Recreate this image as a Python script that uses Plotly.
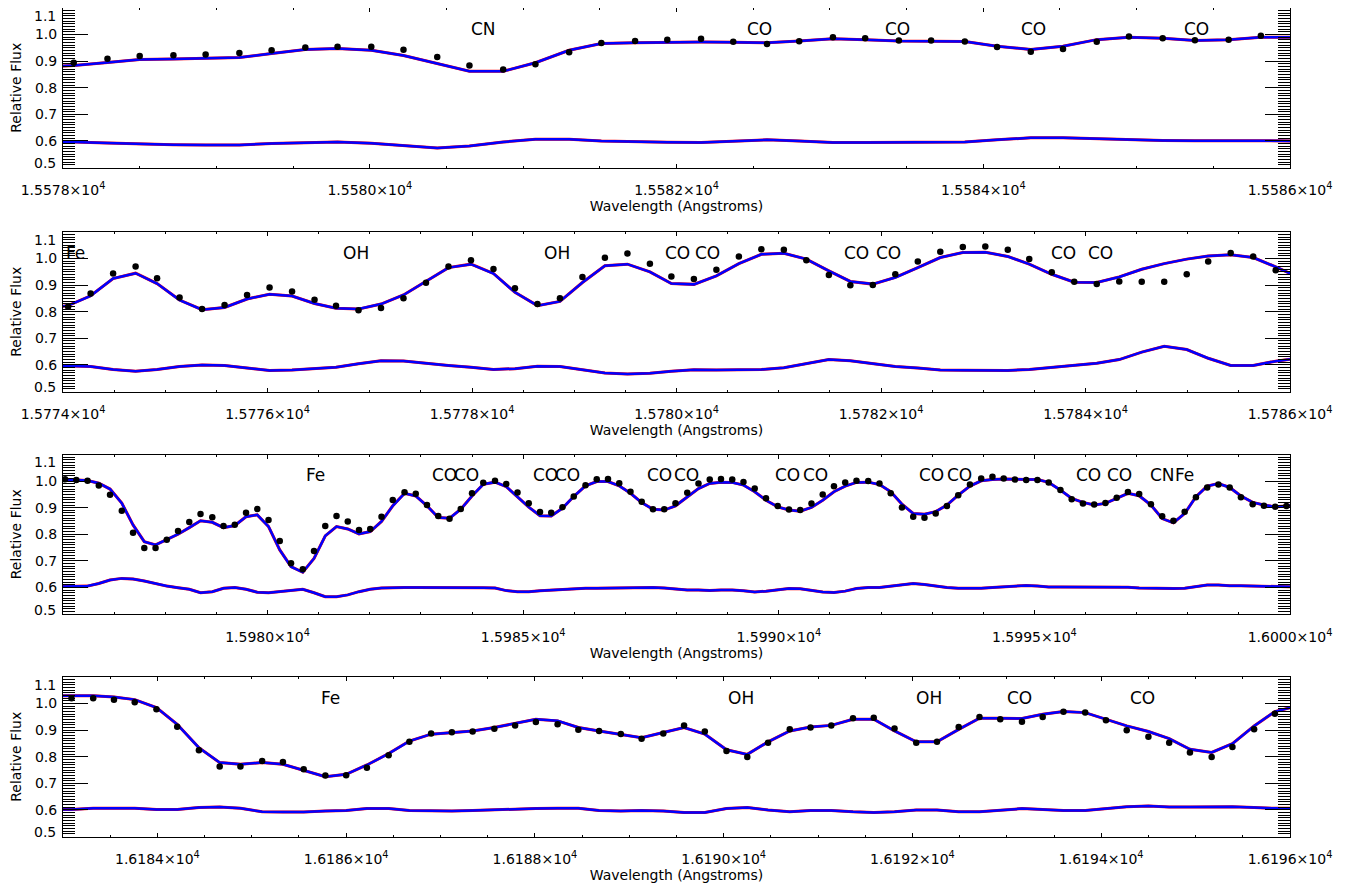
import plotly.graph_objects as go

# ---------------- data ----------------
# Panel 1
wl1 = [15577.86, 15578.07, 15578.29, 15578.50, 15578.72, 15578.93, 15579.15, 15579.36, 15579.58, 15579.79,
       15580.01, 15580.22, 15580.44, 15580.65, 15580.87, 15581.08, 15581.30, 15581.51, 15581.73, 15581.94,
       15582.16, 15582.37, 15582.59, 15582.80, 15583.02, 15583.23, 15583.45, 15583.66, 15583.88, 15584.09,
       15584.31, 15584.52, 15584.74, 15584.95, 15585.17, 15585.38, 15585.60, 15585.81, 15586.03]
obs1 = [None, 0.894, 0.909, 0.919, 0.922, 0.925, 0.931, 0.941, 0.951, 0.954,
        0.954, 0.943, 0.916, 0.884, 0.869, 0.888, 0.934, 0.968, 0.976, 0.981,
        0.984, 0.973, 0.965, 0.975, 0.990, 0.986, 0.978, 0.978, 0.974, 0.953,
        0.935, 0.946, 0.973, 0.993, 0.986, 0.979, 0.981, 0.996, None]
mod1 = [0.878, 0.884, 0.895, 0.906, 0.908, 0.910, 0.914, 0.929, 0.944, 0.948,
        0.941, 0.921, 0.891, 0.862, 0.862, 0.894, 0.941, 0.966, 0.969, 0.971,
        0.972, 0.971, 0.969, 0.976, 0.984, 0.981, 0.976, 0.975, 0.974, 0.956,
        0.944, 0.956, 0.981, 0.990, 0.986, 0.978, 0.981, 0.990, 0.990]
res1 = [0.597, 0.596, 0.592, 0.588, 0.586, 0.585, 0.585, 0.590, 0.594, 0.596,
        0.591, 0.581, 0.573, 0.581, 0.596, 0.606, 0.606, 0.600, 0.596, 0.595,
        0.594, 0.599, 0.604, 0.600, 0.594, 0.594, 0.595, 0.595, 0.596, 0.604,
        0.612, 0.612, 0.608, 0.604, 0.602, 0.601, 0.600, 0.600, 0.600]
xtick1 = [15578, 15580, 15582, 15584, 15586]
xtext1 = ["1.5578×10<sup>4</sup>", "1.5580×10<sup>4</sup>", "1.5582×10<sup>4</sup>",
          "1.5584×10<sup>4</sup>", "1.5586×10<sup>4</sup>"]
lab1 = ["CN", "CO", "CO", "CO", "CO"]
labx1 = [15580.74, 15582.54, 15583.44, 15584.33, 15585.39]

# Panel 2
wl2 = [15773.83, 15774.05, 15774.27, 15774.49, 15774.71, 15774.92, 15775.14, 15775.36, 15775.58, 15775.80,
       15776.02, 15776.24, 15776.46, 15776.67, 15776.89, 15777.11, 15777.33, 15777.55, 15777.77, 15777.99,
       15778.21, 15778.42, 15778.64, 15778.86, 15779.08, 15779.30, 15779.52, 15779.74, 15779.95, 15780.17,
       15780.39, 15780.61, 15780.83, 15781.05, 15781.27, 15781.49, 15781.70, 15781.92, 15782.14, 15782.36,
       15782.58, 15782.80, 15783.02, 15783.24, 15783.45, 15783.67, 15783.89, 15784.11, 15784.33, 15784.55,
       15784.77, 15784.99, 15785.20, 15785.42, 15785.64, 15785.86, 15786.08]
obs2 = [None, 0.819, 0.869, 0.944, 0.970, 0.926, 0.854, 0.810, 0.825, 0.863,
        0.891, 0.876, 0.845, 0.823, 0.806, 0.814, 0.851, 0.909, 0.970, 0.994,
        0.961, 0.888, 0.829, 0.851, 0.931, 1.003, 1.019, 0.981, 0.933, 0.923,
        0.958, 1.008, 1.035, 1.033, 0.994, 0.938, 0.900, 0.901, 0.941, 0.989,
        1.026, 1.044, 1.045, 1.033, 0.998, 0.949, 0.913, 0.904, 0.914, 0.913,
        0.913, 0.941, 0.989, 1.021, 1.008, 0.956, None]
mod2 = [0.812, 0.823, 0.860, 0.925, 0.945, 0.906, 0.844, 0.808, 0.816, 0.848,
        0.866, 0.859, 0.831, 0.813, 0.810, 0.829, 0.863, 0.916, 0.966, 0.979,
        0.944, 0.873, 0.823, 0.839, 0.910, 0.973, 0.979, 0.950, 0.906, 0.903,
        0.935, 0.981, 1.016, 1.020, 0.998, 0.954, 0.914, 0.904, 0.929, 0.966,
        1.004, 1.023, 1.024, 1.008, 0.979, 0.941, 0.911, 0.910, 0.931, 0.960,
        0.981, 0.998, 1.010, 1.014, 1.004, 0.969, 0.930]
res2 = [0.598, 0.597, 0.594, 0.583, 0.576, 0.583, 0.594, 0.600, 0.598, 0.588,
        0.579, 0.581, 0.586, 0.591, 0.604, 0.616, 0.615, 0.606, 0.598, 0.591,
        0.583, 0.586, 0.595, 0.594, 0.581, 0.570, 0.566, 0.569, 0.576, 0.582,
        0.581, 0.581, 0.583, 0.589, 0.604, 0.620, 0.616, 0.604, 0.594, 0.588,
        0.581, 0.580, 0.579, 0.579, 0.583, 0.591, 0.600, 0.606, 0.620, 0.648,
        0.670, 0.658, 0.625, 0.598, 0.598, 0.614, 0.625]
xtick2 = [15774, 15776, 15778, 15780, 15782, 15784, 15786]
xtext2 = ["1.5774×10<sup>4</sup>", "1.5776×10<sup>4</sup>", "1.5778×10<sup>4</sup>",
          "1.5780×10<sup>4</sup>", "1.5782×10<sup>4</sup>", "1.5784×10<sup>4</sup>",
          "1.5786×10<sup>4</sup>"]
lab2 = ["Fe", "OH", "OH", "CO", "CO", "CO", "CO", "CO", "CO"]
labx2 = [15774.12, 15776.87, 15778.83, 15780.01, 15780.30, 15781.76, 15782.07, 15783.78, 15784.15]

# Panel 3
wl3 = [15975.82, 15976.04, 15976.26, 15976.48, 15976.70, 15976.92, 15977.15, 15977.37, 15977.59, 15977.81,
       15978.03, 15978.25, 15978.47, 15978.69, 15978.92, 15979.14, 15979.36, 15979.58, 15979.80, 15980.02,
       15980.24, 15980.46, 15980.69, 15980.91, 15981.13, 15981.35, 15981.57, 15981.79, 15982.01, 15982.23,
       15982.45, 15982.68, 15982.90, 15983.12, 15983.34, 15983.56, 15983.78, 15984.00, 15984.22, 15984.45,
       15984.67, 15984.89, 15985.11, 15985.33, 15985.55, 15985.77, 15985.99, 15986.22, 15986.44, 15986.66,
       15986.88, 15987.10, 15987.32, 15987.54, 15987.76, 15987.98, 15988.21, 15988.43, 15988.65, 15988.87,
       15989.09, 15989.31, 15989.53, 15989.75, 15989.98, 15990.20, 15990.42, 15990.64, 15990.86, 15991.08,
       15991.30, 15991.52, 15991.75, 15991.97, 15992.19, 15992.41, 15992.63, 15992.85, 15993.07, 15993.29,
       15993.51, 15993.74, 15993.96, 15994.18, 15994.40, 15994.62, 15994.84, 15995.06, 15995.28, 15995.51,
       15995.73, 15995.95, 15996.17, 15996.39, 15996.61, 15996.83, 15997.05, 15997.28, 15997.50, 15997.72,
       15997.94, 15998.16, 15998.38, 15998.60, 15998.82, 15999.04, 15999.27, 15999.49, 15999.71, 15999.93,
       16000.15]
obs3 = [None,
        1.007, 1.004, 1.001, 0.983, 0.949, 0.888, 0.806, 0.748, 0.748, 0.779,
        0.812, 0.846, 0.876, 0.864, 0.831, 0.836, 0.881, 0.895, 0.854, 0.775,
        0.691, 0.668, 0.737, 0.831, 0.869, 0.848, 0.816, 0.820, 0.866, 0.929,
        0.958, 0.952, 0.910, 0.869, 0.858, 0.895, 0.954, 0.994, 1.001, 0.989,
        0.957, 0.917, 0.884, 0.881, 0.902, 0.942, 0.984, 1.007, 1.008, 0.992,
        0.960, 0.922, 0.894, 0.894, 0.917, 0.956, 0.991, 1.006, 1.008, 1.006,
        0.997, 0.972, 0.935, 0.906, 0.893, 0.891, 0.916, 0.950, 0.981, 0.995,
        1.001, 1.000, 0.991, 0.954, 0.901, 0.866, 0.862, 0.878, 0.906, 0.947,
        0.987, 1.010, 1.016, 1.010, 1.006, 1.004, 1.004, 0.995, 0.966, 0.932,
        0.916, 0.912, 0.918, 0.937, 0.959, 0.951, 0.913, 0.868, 0.851, 0.885,
        0.939, 0.976, 0.987, 0.976, 0.939, 0.913, 0.907, 0.903, 0.906,
        None]
mod3 = [1.008,
        1.007, 1.004, 1.002, 0.992, 0.970, 0.917, 0.835, 0.772, 0.760, 0.779,
        0.800, 0.825, 0.851, 0.845, 0.825, 0.833, 0.866, 0.873, 0.829, 0.741,
        0.678, 0.657, 0.709, 0.794, 0.829, 0.820, 0.801, 0.810, 0.848, 0.907,
        0.954, 0.944, 0.907, 0.863, 0.860, 0.894, 0.944, 0.988, 0.996, 0.979,
        0.942, 0.902, 0.870, 0.869, 0.898, 0.942, 0.982, 0.998, 0.998, 0.982,
        0.954, 0.919, 0.894, 0.891, 0.907, 0.941, 0.972, 0.991, 0.996, 0.995,
        0.985, 0.960, 0.928, 0.903, 0.891, 0.887, 0.901, 0.928, 0.960, 0.981,
        0.995, 0.996, 0.987, 0.960, 0.913, 0.878, 0.875, 0.885, 0.910, 0.947,
        0.981, 1.001, 1.006, 1.008, 1.006, 1.006, 1.006, 0.995, 0.966, 0.935,
        0.920, 0.910, 0.916, 0.935, 0.954, 0.945, 0.910, 0.859, 0.843, 0.878,
        0.941, 0.981, 0.991, 0.976, 0.944, 0.920, 0.910, 0.903, 0.906,
        0.915]
res3 = [0.603,
        0.603, 0.603, 0.605, 0.615, 0.628, 0.634, 0.632, 0.624, 0.615, 0.605,
        0.599, 0.593, 0.580, 0.584, 0.597, 0.600, 0.593, 0.582, 0.580, 0.584,
        0.590, 0.593, 0.580, 0.565, 0.565, 0.572, 0.584, 0.593, 0.598, 0.600,
        0.600, 0.600, 0.600, 0.601, 0.601, 0.601, 0.600, 0.599, 0.598, 0.588,
        0.584, 0.584, 0.587, 0.590, 0.593, 0.595, 0.597, 0.597, 0.598, 0.599,
        0.600, 0.600, 0.600, 0.598, 0.593, 0.590, 0.590, 0.588, 0.590, 0.590,
        0.587, 0.583, 0.586, 0.592, 0.596, 0.595, 0.590, 0.583, 0.581, 0.586,
        0.596, 0.600, 0.600, 0.605, 0.611, 0.615, 0.611, 0.605, 0.600, 0.597,
        0.596, 0.597, 0.600, 0.602, 0.606, 0.607, 0.605, 0.602, 0.602, 0.602,
        0.600, 0.600, 0.602, 0.602, 0.601, 0.598, 0.597, 0.596, 0.596, 0.597,
        0.602, 0.609, 0.609, 0.606, 0.606, 0.605, 0.602, 0.602, 0.602,
        0.602]
xtick3 = [15980, 15985, 15990, 15995, 16000]
xtext3 = ["1.5980×10<sup>4</sup>", "1.5985×10<sup>4</sup>", "1.5990×10<sup>4</sup>",
          "1.5995×10<sup>4</sup>", "1.6000×10<sup>4</sup>"]
lab3 = ["Fe", "CO", "CO", "CO", "CO", "CO", "CO", "CO", "CO", "CO", "CO", "CO", "CO", "CN", "Fe"]
labx3 = [15980.94, 15983.47, 15983.90, 15985.44, 15985.87, 15987.67, 15988.19,
         15990.18, 15990.71, 15992.98, 15993.53, 15996.06, 15996.66, 15997.50, 15997.94]

# Panel 4
wl4 = [16182.87, 16183.09, 16183.32, 16183.54, 16183.76, 16183.99, 16184.21, 16184.44, 16184.66, 16184.88,
       16185.11, 16185.33, 16185.55, 16185.78, 16186.00, 16186.22, 16186.45, 16186.67, 16186.90, 16187.12,
       16187.34, 16187.57, 16187.79, 16188.01, 16188.24, 16188.46, 16188.68, 16188.91, 16189.13, 16189.36,
       16189.58, 16189.80, 16190.03, 16190.25, 16190.47, 16190.70, 16190.92, 16191.14, 16191.37, 16191.59,
       16191.81, 16192.04, 16192.26, 16192.49, 16192.71, 16192.93, 16193.16, 16193.38, 16193.60, 16193.83,
       16194.05, 16194.27, 16194.50, 16194.72, 16194.94, 16195.17, 16195.39, 16195.62, 16195.84, 16196.06]
obs4 = [None,
        1.020, 1.020, 1.014, 1.005, 0.979, 0.913, 0.824, 0.763, 0.763, 0.784,
        0.780, 0.753, 0.729, 0.730, 0.759, 0.806, 0.856, 0.887, 0.892, 0.895,
        0.905, 0.918, 0.931, 0.922, 0.902, 0.897, 0.886, 0.868, 0.887, 0.918,
        0.895, 0.822, 0.799, 0.853, 0.903, 0.910, 0.918, 0.945, 0.947, 0.906,
        0.853, 0.856, 0.912, 0.950, 0.941, 0.932, 0.950, 0.969, 0.966, 0.937,
        0.900, 0.875, 0.853, 0.816, 0.799, 0.837, 0.903, 0.962,
        None]
mod4 = [1.029,
        1.029, 1.029, 1.025, 1.015, 0.985, 0.922, 0.834, 0.778, 0.772, 0.778,
        0.772, 0.749, 0.725, 0.734, 0.769, 0.812, 0.859, 0.885, 0.891, 0.897,
        0.910, 0.925, 0.941, 0.935, 0.910, 0.897, 0.885, 0.872, 0.891, 0.910,
        0.885, 0.826, 0.809, 0.856, 0.897, 0.912, 0.918, 0.941, 0.941, 0.897,
        0.856, 0.856, 0.903, 0.945, 0.945, 0.944, 0.960, 0.970, 0.966, 0.941,
        0.916, 0.895, 0.868, 0.828, 0.816, 0.849, 0.916, 0.970,
        0.990]
res4 = [0.602,
        0.602, 0.606, 0.606, 0.606, 0.602, 0.602, 0.609, 0.611, 0.606, 0.593,
        0.592, 0.592, 0.596, 0.598, 0.605, 0.605, 0.598, 0.596, 0.596, 0.598,
        0.601, 0.602, 0.605, 0.606, 0.606, 0.598, 0.596, 0.598, 0.596, 0.590,
        0.590, 0.605, 0.609, 0.600, 0.593, 0.598, 0.598, 0.593, 0.590, 0.593,
        0.600, 0.600, 0.593, 0.593, 0.600, 0.605, 0.602, 0.598, 0.598, 0.606,
        0.612, 0.615, 0.611, 0.611, 0.612, 0.612, 0.609, 0.606,
        0.606]
xtick4 = [16184, 16186, 16188, 16190, 16192, 16194, 16196]
xtext4 = ["1.6184×10<sup>4</sup>", "1.6186×10<sup>4</sup>", "1.6188×10<sup>4</sup>",
          "1.6190×10<sup>4</sup>", "1.6192×10<sup>4</sup>", "1.6194×10<sup>4</sup>",
          "1.6196×10<sup>4</sup>"]
lab4 = ["Fe", "OH", "OH", "CO", "CO"]
labx4 = [16185.83, 16190.18, 16192.18, 16193.13, 16194.44]

xranges = [[15578, 15586], [15774, 15786], [15976, 16000], [16183, 16196]]
xminor = [0.5, 0.5, 1.0, 0.5]
yticks = [0.5, 0.6, 0.7, 0.8, 0.9, 1.0, 1.1]
ytext = ["0.5", "0.6", "0.7", "0.8", "0.9", "1.0", "1.1"]
label_level = 1.022

# ---------------- layout ----------------
PAGE_OFF = 8                      # default body margin of the html page
W, H = 1361 - PAGE_OFF, 884 - PAGE_OFF
left_px, right_px = 63 - PAGE_OFF, 1290 - PAGE_OFF
tops_px = [8 - PAGE_OFF, 232 - PAGE_OFF, 454.5 - PAGE_OFF, 677 - PAGE_OFF]
panel_h = 159.5

FONT = "DejaVu Sans, Liberation Sans, Arial, sans-serif"
tickfont = dict(family=FONT, size=14, color="black")

panels = [
    (wl1, obs1, mod1, res1, xtick1, xtext1, lab1, labx1),
    (wl2, obs2, mod2, res2, xtick2, xtext2, lab2, labx2),
    (wl3, obs3, mod3, res3, xtick3, xtext3, lab3, labx3),
    (wl4, obs4, mod4, res4, xtick4, xtext4, lab4, labx4),
]

# end labels of the y axis sit slightly inside the frame (IDL style)
ytext_axis = [""] + ytext[1:-1] + [""]
end_labels = [(yticks[0], ytext[0], 4.5), (yticks[-1], ytext[-1], -7.5)]

fig = go.Figure()
layout = dict(
    width=W, height=H,
    margin=dict(l=0, r=0, t=0, b=0),
    paper_bgcolor="white", plot_bgcolor="white",
    showlegend=False,
    annotations=[],
)

for i, (wl, obs, mod, res, xt, xtx, labs, labx) in enumerate(panels):
    n = i + 1
    xa = "x" if n == 1 else f"x{n}"
    ya = "y" if n == 1 else f"y{n}"
    for yy in (mod, res):
        fig.add_trace(go.Scatter(x=wl, y=yy, mode="lines", xaxis=xa, yaxis=ya,
                                 line=dict(color="#ff0000", width=3.0), hoverinfo="skip"))
        fig.add_trace(go.Scatter(x=wl, y=yy, mode="lines", xaxis=xa, yaxis=ya,
                                 line=dict(color="#0000ff", width=2.5), hoverinfo="skip"))
    fig.add_trace(go.Scatter(x=wl, y=obs, mode="markers", xaxis=xa, yaxis=ya,
                             marker=dict(color="black", size=6.5, line=dict(width=0))))

    top = tops_px[i]
    bot = top + panel_h
    ydom = [1 - bot / H, 1 - top / H]
    xdom = [left_px / W, right_px / W]

    layout["xaxis" if n == 1 else f"xaxis{n}"] = dict(
        domain=xdom, anchor=ya, range=xranges[i],
        tickmode="array", tickvals=xt, ticktext=xtx,
        ticks="inside", ticklen=4, tickwidth=1, tickcolor="black",
        minor=dict(tickmode="linear", tick0=0, dtick=xminor[i], ticks="inside",
                   ticklen=2, tickwidth=1, tickcolor="black"),
        showline=True, linecolor="black", linewidth=1, mirror="allticks",
        showgrid=False, zeroline=False, automargin=False,
        tickfont=tickfont, ticklabelstandoff=10,
        title=dict(text="Wavelength (Angstroms)", font=tickfont, standoff=1),
    )
    layout["yaxis" if n == 1 else f"yaxis{n}"] = dict(
        domain=ydom, anchor=xa, range=[0.5, 1.1],
        tickmode="array", tickvals=yticks, ticktext=ytext_axis,
        ticks="inside", ticklen=25, tickwidth=1, tickcolor="black",
        minor=dict(tickmode="linear", tick0=0.5, dtick=0.01, ticks="inside",
                   ticklen=12, tickwidth=1, tickcolor="black"),
        showline=True, linecolor="black", linewidth=1, mirror="allticks",
        showgrid=False, zeroline=False, automargin=False,
        tickfont=tickfont, ticklabelstandoff=2,
        title=dict(text="Relative Flux", font=tickfont, standoff=12),
    )
    for yv, yt, ys in end_labels:
        layout["annotations"].append(dict(
            x=0, xref=f"{xa} domain", y=yv, yref=ya, text=yt, showarrow=False,
            xanchor="right", yanchor="middle", xshift=-5, yshift=ys,
            font=tickfont))
    for t, lx in zip(labs, labx):
        layout["annotations"].append(dict(
            x=lx, y=label_level, xref=xa, yref=ya, text=t, showarrow=False,
            font=dict(family=FONT, size=17, color="black"),
            xanchor="center", yanchor="middle"))

fig.update_layout(**layout)
fig.write_html("out.html")
